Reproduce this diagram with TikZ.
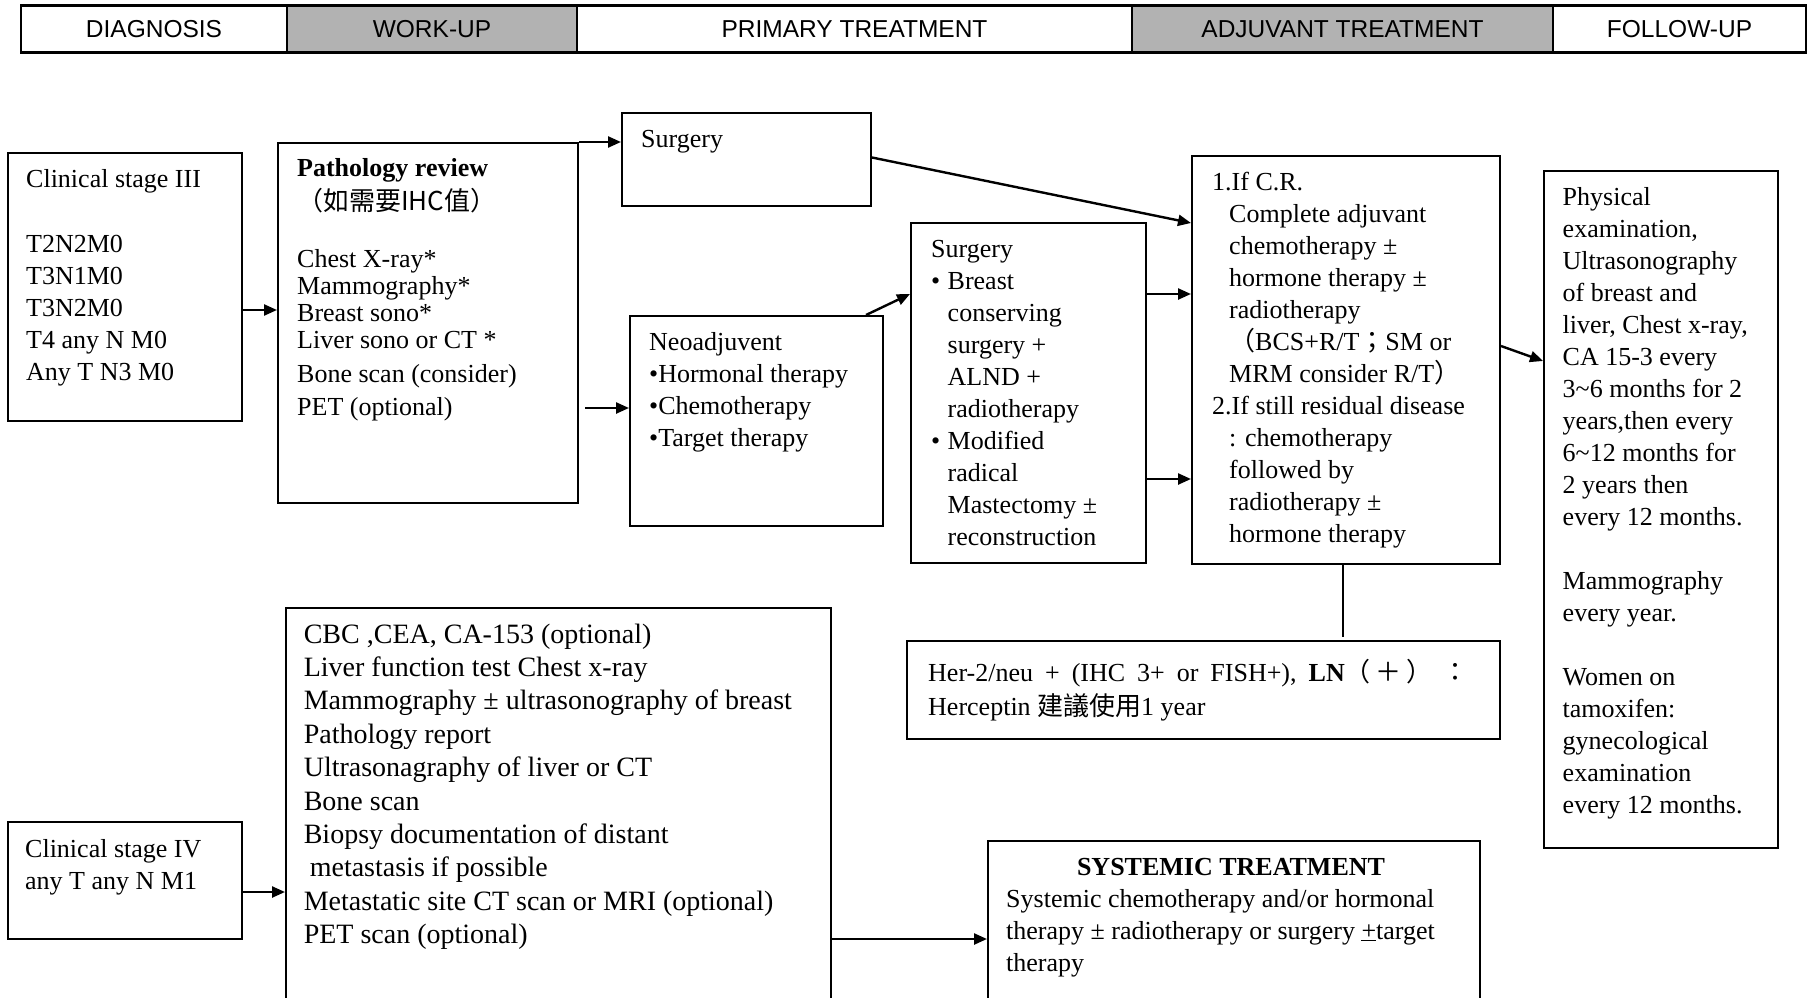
\documentclass[tikz,border=0pt]{standalone}
\usepackage{fontspec}
\setmainfont{Liberation Serif}
\newfontfamily\cjk{Noto Sans CJK TC}
\newfontfamily\hdrfont{Liberation Sans}
\usetikzlibrary{arrows.meta}
\definecolor{hdrgray}{RGB}{178,178,178}
\begin{document}
\begin{tikzpicture}[x=1pt,y=-1pt,
  box/.style={draw, line width=2pt, anchor=north west, inner sep=0pt},
  txt/.style={anchor=north west, align=left, inner sep=0pt, font=\fontsize{26}{32}\selectfont},
  txtb/.style={anchor=north west, align=left, inner sep=0pt, font=\fontsize{28}{33.4}\selectfont},
  arr/.style={line width=2.4pt, -{Triangle[length=13pt,width=11pt]}},
  hdr/.style={draw, line width=1.2pt, minimum height=46pt, inner sep=0pt, font=\hdrfont\fontsize{24.5}{28}\selectfont},
]
\useasboundingbox (0,0) rectangle (1810,998);
\clip (0,0) rectangle (1810,998);
\fill[white] (0,0) rectangle (1810,998);

% header
\node[hdr, minimum width=266pt, fill=white] (h1) at (154,29) {DIAGNOSIS};
\node[hdr, minimum width=290pt, fill=hdrgray] (h2) at (432,29) {WORK-UP};
\node[hdr, minimum width=555pt, fill=white] (h3) at (854.5,29) {PRIMARY TREATMENT};
\node[hdr, minimum width=421pt, fill=hdrgray] (h4) at (1342.5,29) {ADJUVANT TREATMENT};
\node[hdr, minimum width=253pt, fill=white] (h5) at (1679.5,29) {FOLLOW-UP};
\draw[line width=3pt] (h1.north west) -- (h5.north east);
\draw[line width=3.5pt] (h1.south west) -- (h5.south east);

% boxes
\node[box, minimum width=234pt, minimum height=268pt] (st3) at (7,152) {};
\node[box, minimum width=300pt, minimum height=360pt] (path) at (277,142) {};
\node[box, minimum width=249pt, minimum height=93pt] (surg1) at (621,112) {};
\node[box, minimum width=253pt, minimum height=210pt] (neo) at (629,315) {};
\node[box, minimum width=235pt, minimum height=340pt] (surg2) at (910,222) {};
\node[box, minimum width=308pt, minimum height=408pt] (adj) at (1191,155) {};
\node[box, minimum width=234pt, minimum height=677pt] (fol) at (1543,170) {};
\node[box, minimum width=593pt, minimum height=98pt] (her) at (906,640) {};
\node[box, minimum width=234pt, minimum height=117pt] (st4) at (7,821) {};
\node[box, minimum width=545pt, minimum height=420pt] (wk4) at (285,607) {};
\node[box, minimum width=492pt, minimum height=180pt] (sys) at (987,840) {};

% texts
\node[txt] (st3t) at (26,164.6) {\strut Clinical stage III\\[33pt]T2N2M0\\T3N1M0\\T3N2M0\\T4 any N M0\\Any T N3 M0};
\node[txt] (patht) at (297,153.6) {\strut\textbf{Pathology review}\\[2pt]{\cjk （如需要IHC值）}\\[25pt]Chest X-ray*\\[-5pt]Mammography*\\[-5pt]Breast sono*\\[-5pt]Liver sono or CT *\\[2pt]Bone scan (consider)\\[1pt]PET (optional)};
\node[txt] (surg1t) at (641,124.6) {\strut Surgery};
\node[txt] (neot) at (649,327.6) {\strut Neoadjuvent\\•Hormonal therapy\\•Chemotherapy\\•Target therapy};
\node[txt] (surg2t) at (931,234.6) {\strut Surgery\\\makebox[16.5pt][l]{•}Breast\\\hspace*{16.5pt}conserving\\\hspace*{16.5pt}surgery +\\\hspace*{16.5pt}ALND +\\\hspace*{16.5pt}radiotherapy\\\makebox[16.5pt][l]{•}Modified\\\hspace*{16.5pt}radical\\\hspace*{16.5pt}Mastectomy ±\\\hspace*{16.5pt}reconstruction};
\node[txt] (adjt) at (1212,167.6) {\strut 1.If C.R.\\\hspace*{17pt}Complete adjuvant\\\hspace*{17pt}chemotherapy ±\\\hspace*{17pt}hormone therapy ±\\\hspace*{17pt}radiotherapy\\\hspace*{17pt}{\cjk （}BCS+R/T{\cjk ；}SM or\\\hspace*{17pt}MRM consider R/T{\cjk ）}\\2.If still residual disease\\\hspace*{17pt}: chemotherapy\\\hspace*{17pt}followed by\\\hspace*{17pt}radiotherapy ±\\\hspace*{17pt}hormone therapy};
\node[txt] (folt) at (1562.5,182.6) {\strut Physical\\examination,\\Ultrasonography\\of breast and\\liver, Chest x-ray,\\CA 15-3 every\\3\textasciitilde 6 months for 2\\years,then every\\6\textasciitilde 12 months for\\2 years then\\every 12 months.\\[32pt]Mammography\\every year.\\[32pt]Women on\\tamoxifen:\\gynecological\\examination\\every 12 months.};
\node[txt] (hert) at (928,658.6) {\strut\spaceskip=12pt plus 2pt Her-2/neu + (IHC 3+ or FISH+), \textbf{LN}{\cjk （\hspace{5pt}＋\hspace{5pt}）\hspace{10pt}：}\\[2pt]Herceptin {\cjk 建議使用}1 year};
\node[txt] (st4t) at (25,834.6) {\strut Clinical stage IV\\any T any N M1};
\node[txtb] (wk4t) at (303.6,619.6) {\strut CBC ,CEA, CA-153 (optional)\\Liver function test Chest x-ray\\Mammography ± ultrasonography of breast\\Pathology report\\Ultrasonagraphy of liver or CT\\Bone scan\\Biopsy documentation of distant\\\hspace*{6pt}metastasis if possible\\Metastatic site CT scan or MRI (optional)\\PET scan (optional)};
\node[anchor=base, inner sep=0pt, font=\fontsize{26}{32}\selectfont\bfseries] (systitle) at (1231,875) {SYSTEMIC TREATMENT};
\node[txt] (sysb) at (1006,884.6) {\strut Systemic chemotherapy and/or hormonal\\therapy ± radiotherapy or surgery \underline{+}target\\therapy};

% connectors
\draw[arr] ([yshift=-23pt]st3.east) -- ([yshift=-23pt]st3.east -| path.west);
\draw[arr] (path.north east) -- (path.north east -| surg1.west);
\draw[arr] ([yshift=2pt]surg1.east) -- ([yshift=137pt]adj.west);
\draw[arr] ([xshift=6pt,yshift=-85pt]path.east) -- ([yshift=-85pt]path.east -| neo.west);
\draw[arr] ([xshift=-18pt]neo.north east) -- ([yshift=99pt]surg2.west);
\draw[arr] ([yshift=99pt]surg2.east) -- ([yshift=99pt]surg2.east -| adj.west);
\draw[arr] ([yshift=-86pt]surg2.east) -- ([yshift=-86pt]surg2.east -| adj.west);
\draw[arr] ([yshift=14pt]adj.east) -- ([yshift=148.5pt]fol.west);
\draw[line width=2pt] ([xshift=-3pt]adj.south) -- ([xshift=-3pt,yshift=3pt]adj.south |- her.north);
\draw[arr] ([yshift=-11.5pt]st4.east) -- ([yshift=-11.5pt]st4.east -| wk4.west);
\draw[arr] ([yshift=-8pt]sys.west -| wk4.east) -- ([yshift=-8pt]sys.west);
\end{tikzpicture}
\end{document}
